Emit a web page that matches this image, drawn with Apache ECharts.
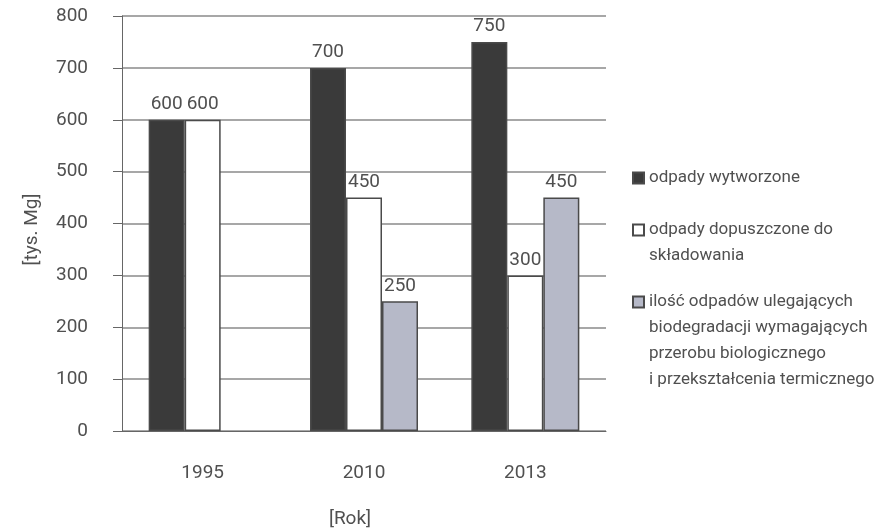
<html>
    <head>
        <meta charset="utf-8">
        <script src="https://cdn.jsdelivr.net/npm/echarts@6/dist/echarts.min.js"></script>
        <style>
            html, body { margin: 0; padding: 0; background: #fff; }
            #main { width: 888px; height: 529px; }
        </style>
    </head>
    <body>
        <div id="main"></div>

        <script>

        var years = ['1995', '2010', '2013'];
        var seriesNames = [
            'odpady wytworzone',
            'odpady dopuszczone do\nskładowania',
            'ilość odpadów ulegających\nbiodegradacji wymagających\nprzerobu biologicznego\ni przekształcenia termicznego'
        ];
        var produced = [600, 700, 750];
        var landfilled = [600, 450, 300];
        var biodegradable = ['-', 250, 450];
        var yTicks = [0, 100, 200, 300, 400, 500, 600, 700, 800];

        var font = "Roboto, 'Liberation Sans', sans-serif";
        var textColor = '#505050';
        var lineH = 26;
        // first-line centres of the legend entries
        var legendY = [178, 230, 302];

        var barLabel = {
            show: true,
            position: 'top',
            distance: 6,
            fontFamily: font,
            fontSize: 19,
            color: textColor
        };

        function makeBar(name, data, color) {
            return {
                name: name,
                type: 'bar',
                data: data,
                barWidth: 36,
                barGap: '0%',
                itemStyle: {
                    color: color,
                    borderColor: '#4a4a4a',
                    borderWidth: 1.5
                },
                label: barLabel
            };
        }

        // one legend per entry; blank lines in front keep the icon level
        // with the first line of a wrapped name
        var legends = seriesNames.map(function (n, i) {
            var lines = n.split('\n').length;
            return {
                orient: 'vertical',
                left: 632,
                top: legendY[i] - (2 * lines - 1) * lineH / 2,
                padding: 0,
                itemWidth: 11,
                itemHeight: 11,
                itemGap: 0,
                icon: 'rect',
                selectedMode: false,
                textStyle: {
                    fontFamily: font,
                    fontSize: 17,
                    lineHeight: lineH,
                    color: textColor
                },
                formatter: function (name) {
                    return new Array(lines).join('\n') + name;
                },
                data: [n]
            };
        });

        var option = {
            backgroundColor: '#fff',
            animation: false,
            textStyle: { fontFamily: font },
            grid: {
                left: 122,
                right: 282,
                top: 16,
                bottom: 98,
                outerBoundsMode: 'none'
            },
            legend: legends,
            xAxis: {
                type: 'category',
                data: years,
                name: '[Rok]',
                nameLocation: 'middle',
                nameGap: 79,
                nameTextStyle: {
                    fontFamily: font,
                    fontSize: 19,
                    color: textColor,
                    padding: [0, 28, 0, 0]
                },
                axisLine: { lineStyle: { color: '#666', width: 1 } },
                axisTick: { length: 8, lineStyle: { color: '#666' } },
                axisLabel: {
                    margin: 33,
                    fontFamily: font,
                    fontSize: 19,
                    color: textColor
                }
            },
            yAxis: {
                type: 'value',
                min: yTicks[0],
                max: yTicks[yTicks.length - 1],
                interval: 100,
                name: '[tys. Mg]',
                nameLocation: 'middle',
                nameGap: 80,
                nameTextStyle: {
                    fontFamily: font,
                    fontSize: 19,
                    color: textColor,
                    padding: [0, 12, 0, 0]
                },
                axisLine: { show: true, lineStyle: { color: '#666', width: 1 } },
                axisTick: { show: true, length: 9, lineStyle: { color: '#666' } },
                splitLine: { lineStyle: { color: '#8a8a8a', width: 1.5 } },
                axisLabel: {
                    margin: 34,
                    fontFamily: font,
                    fontSize: 19,
                    color: textColor
                }
            },
            series: [
                makeBar(seriesNames[0], produced, '#3a3a3a'),
                makeBar(seriesNames[1], landfilled, '#ffffff'),
                makeBar(seriesNames[2], biodegradable, '#b6b9c8')
            ]
        };

        var myChart = echarts.init(document.getElementById('main'));
        myChart.setOption(option);

        </script>
    </body>
</html>
